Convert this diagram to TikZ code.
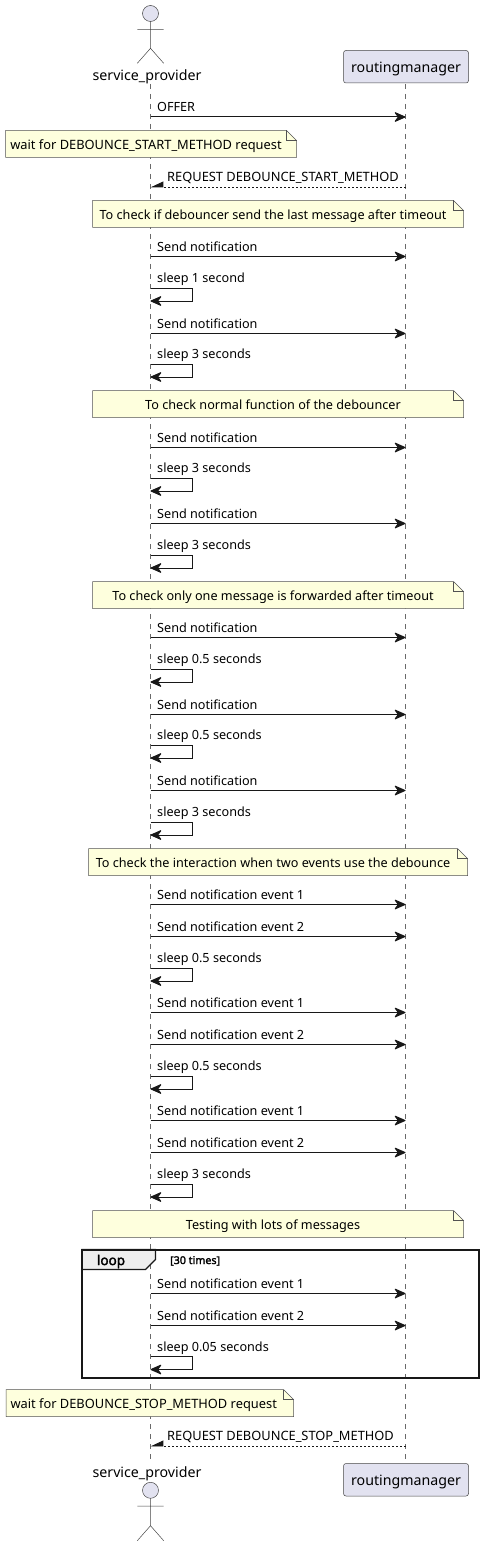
\documentclass[tikz,border=0pt]{standalone}
\usepackage{fontspec}
\setmainfont{Noto Sans}
\newfontfamily\heavyface[FakeBold=2.2]{Noto Sans}
\usetikzlibrary{arrows.meta}
\definecolor{partfill}{HTML}{E2E2F0}
\definecolor{notefill}{HTML}{FEFFDD}
\definecolor{ink}{HTML}{181818}
\definecolor{tabfill}{HTML}{EEEEEE}
\newcommand{\capsize}{\fontsize{12.85}{13}\selectfont}
\tikzset{
  x=1pt,y=-1pt,
  lifeline/.style={draw=ink!65,line width=0.6pt,dash pattern=on 5pt off 5pt},
  msgline/.style={draw=ink,line width=1pt,-{Stealth[length=12.5pt,width=11pt,inset=4pt,round=false]}},
  retline/.style={draw=ink,line width=0.8pt,dash pattern=on 2pt off 2pt,-{Triangle[harpoon,swap,length=12pt,width=11pt,sep=0pt]}},
  msglabel/.style={anchor=base west,font=\fontsize{12.65}{13}\selectfont,inner sep=0pt,text=black},
  notelabel/.style={anchor=base,font=\fontsize{12.65}{13}\selectfont,inner sep=0pt,text=black},
  notebody/.style={draw=ink!75,fill=notefill,line width=0.5pt},
  partbox/.style={draw=ink!80,fill=partfill,line width=0.5pt,rounded corners=2.5pt},
  parttext/.style={font=\fontsize{14.2}{14}\selectfont,inner sep=0pt,text=black,anchor=base},
  actorline/.style={draw=ink!80,line width=0.5pt},
  actorhead/.style={draw=ink!80,fill=partfill,line width=0.5pt},
}
% \fwd{id}{y of arrow}{label}
\newcommand{\fwd}[3]{%
  \coordinate (s#1) at (150.5,#2);\coordinate (r#1) at (405.5,#2);
  \draw[msgline] (s#1) -- (r#1);
  \node[msglabel] (l#1) at (157,#2-5) {#3};}
% \back{id}{y of arrow}{label}
\newcommand{\back}[3]{%
  \coordinate (s#1) at (150.5,#2);\coordinate (r#1) at (405.5,#2);
  \draw[retline] (r#1) -- (s#1);
  \node[msglabel] (l#1) at (167,#2-5.3) {\capsize #3};}
% \selfmsg{id}{y of lower line}{label}
\newcommand{\selfmsg}[3]{%
  \coordinate (a#1) at (150.5,#2-13);\coordinate (b#1) at (150.5,#2);
  \draw[msgline] (a#1) -- (192.5,#2-13) -- (192.5,#2) -- (b#1);
  \node[msglabel] (l#1) at (157,#2-18.5) {#3};}
% \notebox{id}{x1}{x2}{y1}{y2}{text x}{text}
\newcommand{\notebox}[7]{%
  \draw[notebody] (#2,#4) -- (#3-10,#4) -- (#3,#4+10) -- (#3,#5) -- (#2,#5) -- cycle;
  \draw[notebody,fill=none] (#3-10,#4) -- (#3-10,#4+10) -- (#3,#4+10);
  \node[notelabel] (n#1) at (#6,#5-8) {#7};}
\begin{document}
\begin{tikzpicture}
\useasboundingbox (0,0) rectangle (483,1546);
\fill[white] (0,0) rectangle (483,1546);
% lifelines
\coordinate (stop) at (150.5,84);\coordinate (sbot) at (150.5,1461);
\coordinate (rtop) at (405.5,84);\coordinate (rbot) at (405.5,1461);
\draw[lifeline] (stop) -- (sbot);
\draw[lifeline] (rtop) -- (rbot);
% participants top
\node[parttext] (sptop) at (147,80.3) {service\_provider};
\draw[actorhead] (150.5,13.5) circle (8);
\draw[actorline] (150.5,21.5) -- (150.5,48.3) (137.3,29.3) -- (163.7,29.3) (137.3,63.3) -- (150.5,48.3) -- (163.7,63.3);
\draw[partbox] (343.5,50.5) rectangle (468.5,83);
\node[parttext] (rmtop) at (406,72.5) {routingmanager};
% messages
\fwd{1}{117}{OFFER}
\notebox{a}{5.5}{296.5}{130.5}{157.5}{146}{\capsize wait for DEBOUNCE\_START\_METHOD request}
\back{2}{187}{REQUEST DEBOUNCE\_START\_METHOD}
\notebox{b}{92.5}{463.5}{200.5}{227.5}{273}{To check if debouncer send the last message after timeout}
\fwd{3}{256.5}{Send notification}
\selfmsg{4}{301}{sleep 1 second}
\fwd{5}{333.5}{Send notification}
\selfmsg{6}{377}{sleep 3 seconds}
\notebox{c}{92.5}{463.5}{390.5}{417.5}{273}{To check normal function of the debouncer}
\fwd{7}{447.5}{Send notification}
\selfmsg{8}{491}{sleep 3 seconds}
\fwd{9}{523.5}{Send notification}
\selfmsg{10}{568}{sleep 3 seconds}
\notebox{d}{92.5}{463.5}{581.5}{608.5}{273}{To check only one message is forwarded after timeout}
\fwd{11}{637.5}{Send notification}
\selfmsg{12}{682}{sleep 0.5 seconds}
\fwd{13}{714.5}{Send notification}
\selfmsg{14}{758}{sleep 0.5 seconds}
\fwd{15}{790.5}{Send notification}
\selfmsg{16}{835}{sleep 3 seconds}
\notebox{e}{88.5}{467.5}{848.5}{875.5}{273}{To check the interaction when two events use the debounce}
\fwd{17}{904.5}{Send notification event 1}
\fwd{18}{936.5}{Send notification event 2}
\selfmsg{19}{981}{sleep 0.5 seconds}
\fwd{20}{1012.5}{Send notification event 1}
\fwd{21}{1044.5}{Send notification event 2}
\selfmsg{22}{1089}{sleep 0.5 seconds}
\fwd{23}{1120.5}{Send notification event 1}
\fwd{24}{1152.5}{Send notification event 2}
\selfmsg{25}{1197}{sleep 3 seconds}
\notebox{f}{92.5}{463.5}{1210.5}{1237.5}{273}{Testing with lots of messages}
% loop
\draw[ink,line width=2pt] (82,1249.5) rectangle (479,1377.5);
\draw[ink,fill=tabfill,line width=1.2pt] (82,1249.5) -- (155.5,1249.5) -- (155.5,1259.5) -- (145.5,1269.5) -- (82,1269.5) -- cycle;
\draw[ink,line width=2pt] (82,1249.5) -- (155.5,1249.5) (82,1249.5) -- (82,1269.5);
\node[font=\fontsize{13.5}{14}\heavyface,inner sep=0pt,anchor=base] (looplabel) at (111,1265) {loop};
\node[font=\fontsize{10.7}{11}\heavyface,inner sep=0pt,anchor=base west] (loopcond) at (170,1264) {[30 times]};
\fwd{26}{1293.5}{Send notification event 1}
\fwd{27}{1325.5}{Send notification event 2}
\selfmsg{28}{1369.5}{sleep 0.05 seconds}
\notebox{g}{6}{293.5}{1389.5}{1416.5}{143.7}{\capsize wait for DEBOUNCE\_STOP\_METHOD request}
\back{29}{1446}{REQUEST DEBOUNCE\_STOP\_METHOD}
% participants bottom
\node[parttext] (spbot) at (147,1477.5) {service\_provider};
\draw[actorhead] (150.5,1490.3) circle (8);
\draw[actorline] (150.5,1498.3) -- (150.5,1525.7) (137.3,1506) -- (163.7,1506) (137.3,1540.7) -- (150.5,1525.7) -- (163.7,1540.7);
\draw[partbox] (343.5,1463.5) rectangle (468.5,1496);
\node[parttext] (rmbot) at (406,1485.3) {routingmanager};
\end{tikzpicture}
\end{document}
